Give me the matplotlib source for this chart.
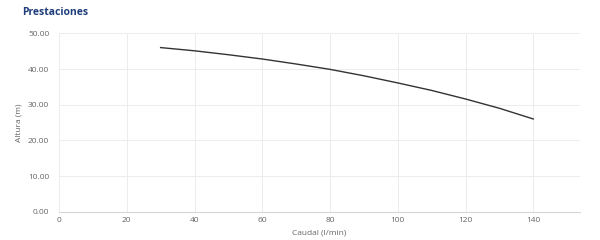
import numpy as np
import matplotlib
matplotlib.use('Agg')
import matplotlib.pyplot as plt

# curve
caudal = [30, 40, 50, 60, 70, 80, 90, 100, 110, 120, 130, 140]
altura = [46.0, 45.1, 44.0, 42.8, 41.4, 39.9, 38.1, 36.1, 34.0, 31.6, 29.0, 26.0]

x_ticks = [0, 20, 40, 60, 80, 100, 120, 140]
y_ticks = [0, 10, 20, 30, 40, 50]

plt.rcParams['font.family'] = ['Open Sans', 'DejaVu Sans']

fig = plt.figure(figsize=(6, 2.4), dpi=100)
ax = fig.add_axes([59/600, 1 - 211.8/240, 521/600, (211.8 - 33.3)/240])

ax.plot(caudal, altura, color="#333333", linewidth=1.0, zorder=3)

ax.set_xlim(0, 153.8)
ax.set_ylim(0, 50)
ax.set_xticks(x_ticks)
ax.set_yticks(y_ticks)
ax.set_yticklabels(["%.2f" % v for v in y_ticks])
ax.tick_params(axis='both', length=0, labelsize=6, labelcolor="#666666")
ax.tick_params(axis='y', pad=7)
ax.tick_params(axis='x', pad=4)

ax.grid(True, color="#ececec", linewidth=0.7)
for s in ['top', 'right', 'left']:
    ax.spines[s].set_visible(False)
ax.spines['bottom'].set_color("#d6d6d6")
ax.spines['bottom'].set_linewidth(0.8)

ax.set_xlabel("Caudal (l/min)", fontsize=6, color="#666666", labelpad=4)
ax.set_ylabel("Altura (m)", fontsize=6, color="#666666", labelpad=4)

fig.text(22/600, 1 - 12.5/240, "Prestaciones", fontsize=7.5, fontweight='bold',
         color="#1f3d7a", ha='left', va='center')

fig.savefig('out.png', dpi=100)
print("plot success!")
